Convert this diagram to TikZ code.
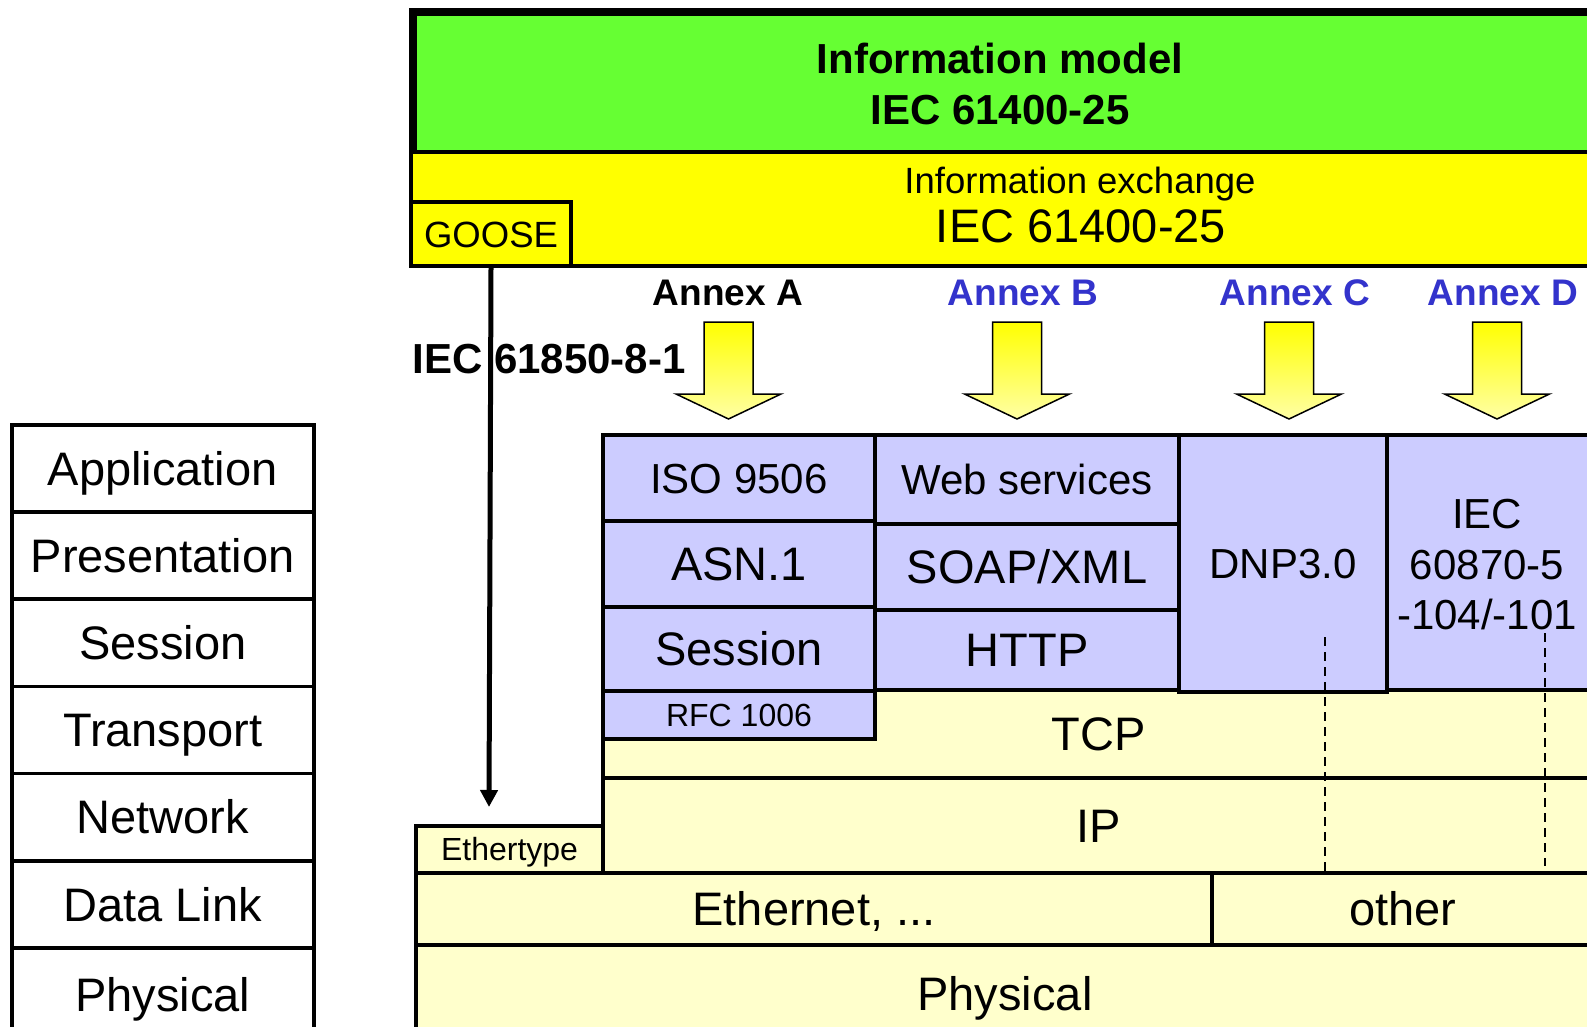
\documentclass[tikz,border=0pt]{standalone}
\usepackage{fontspec}
\setmainfont{Liberation Sans}
\usetikzlibrary{arrows.meta}
\definecolor{gmodel}{RGB}{102,255,51}
\definecolor{yex}{RGB}{255,255,0}
\definecolor{lblue}{RGB}{204,204,255}
\definecolor{pale}{RGB}{255,255,204}
\definecolor{annexblue}{RGB}{51,51,204}
\definecolor{arrpale}{RGB}{255,255,165}
\newcommand\fsz[2]{\fontsize{#1}{#2}\selectfont}
% style, x1, y1, x2, y2, name, text
\newcommand\cellbox[7]{\node[#1, minimum width={#4-#2}, minimum height={#5-#3}] (#6) at (#2,#3) {#7};}
\newcommand\drawannex[1]{\shadedraw[annexarrow] (#1-24.5,322) -- (#1+24.5,322) -- (#1+24.5,394) -- (#1+52.5,394) -- (#1,419) -- (#1-52.5,394) -- (#1-24.5,394) -- cycle;}
\tikzset{
  cell/.style={draw=black, line width=4pt, inner sep=0pt, anchor=north west},
  sz47/.style={font=\fsz{47}{54}, text height=33.6pt, text depth=0pt},
  sz42/.style={font=\fsz{42}{50}, text height=30.1pt, text depth=0pt},
  sz36/.style={font=\fsz{36.5}{42}, text height=26.1pt, text depth=0pt},
  sz32/.style={font=\fsz{32}{38}, text height=22.9pt, text depth=0pt},
  osi/.style={cell, fill=white, line width=3.5pt, sz47},
  bluecell/.style={cell, fill=lblue},
  palecell/.style={cell, fill=pale},
  annexarrow/.style={top color=yex, bottom color=arrpale, draw=black, line width=1.5pt, line join=miter},
  annexlbl/.style={font=\bfseries\fsz{37}{44}, anchor=base},
  dashline/.style={draw=black, line width=2.5pt, dash pattern=on 9pt off 6pt},
  gooseline/.style={draw=black, line width=5pt, -{Triangle[length=17pt,width=17pt]}},
}
\begin{document}
\begin{tikzpicture}[x=1pt,y=-1pt]
\useasboundingbox (0,0) rectangle (1587,1027);
\clip (0,0) rectangle (1587,1027);
\fill[white] (0,0) rectangle (1587,1027);

% OSI reference stack
\cellbox{osi}{10}{423}{312}{510.2}{osiapp}{Application}
\cellbox{osi}{10}{510.2}{312}{597.4}{osipres}{Presentation}
\cellbox{osi}{10}{597.4}{312}{684.6}{osisess}{Session}
\cellbox{osi}{10}{684.6}{312}{771.8}{ositrans}{Transport}
\cellbox{osi}{10}{771.8}{312}{859}{osinet}{Network}
\cellbox{osi}{10}{859}{312}{946.2}{osidl}{Data Link}
\cellbox{osi}{10}{946.2}{312}{1040}{osiphys}{Physical}

% top boxes
\cellbox{cell, fill=gmodel, line width=8pt}{409}{8}{1595}{150}{model}{}
\node[font=\bfseries\fsz{42}{51}, align=center, anchor=north] (modeltext) at (1000,40) {Information model\\IEC 61400-25};
\cellbox{cell, fill=yex}{409}{150}{1595}{264}{exchange}{}
\node[font=\fsz{36.5}{42}, anchor=base] (exchtext) at (1080,194) {Information exchange};
\node[font=\fsz{47}{54}, anchor=base] (exchiec) at (1081,243) {IEC 61400-25};
\cellbox{cell, fill=yex, sz36}{409}{200}{569}{264}{goose}{GOOSE}

% annex labels and arrows
\node[annexlbl] (annexA) at (728,305) {Annex A};
\node[annexlbl, text=annexblue] (annexB) at (1023,305) {Annex B};
\node[annexlbl, text=annexblue] (annexC) at (1295,305) {Annex C};
\node[annexlbl, text=annexblue] (annexD) at (1503,305) {Annex D};
\drawannex{728.5}
\drawannex{1017}
\drawannex{1289}
\drawannex{1497}
\node[font=\bfseries\fsz{42}{50}, anchor=base] (iec881) at (549,373) {IEC 61850-8-1};

% lower pale layers
\cellbox{palecell, sz47}{601}{688}{1592}{776}{tcp}{TCP}
\cellbox{palecell, sz47}{601}{776}{1592}{871}{ip}{IP}
\cellbox{palecell, sz32}{414}{824}{601}{871}{ethertype}{Ethertype}
\cellbox{palecell, sz47}{414}{871}{1210}{943}{ethernet}{Ethernet, ...}
\cellbox{palecell, sz47}{1210}{871}{1592}{943}{other}{other}
\cellbox{palecell, sz47}{414}{943}{1592}{1040}{physical}{Physical}

% blue protocol boxes
\cellbox{bluecell, sz42}{601}{433}{873}{519}{iso}{ISO 9506}
\cellbox{bluecell, sz47}{601}{519}{873}{605}{asn}{ASN.1}
\cellbox{bluecell, sz47}{601}{605}{873}{689}{session}{Session}
\cellbox{bluecell, sz32}{601}{689}{873}{737}{rfc}{RFC 1006}
\cellbox{bluecell, sz42}{873}{433}{1177}{522}{web}{Web services}
\cellbox{bluecell, sz47}{873}{522}{1177}{608}{soap}{SOAP/XML}
\cellbox{bluecell, sz47}{873}{608}{1177}{688}{http}{HTTP}
\cellbox{bluecell, sz42}{1177}{433}{1385}{690}{dnp}{DNP3.0}
\cellbox{bluecell}{1385}{433}{1595}{688}{iec104}{}
\node[font=\fsz{42}{50.5}, align=center, anchor=north] (iec104text) at (1487,496) {IEC\\60870-5\\-104/-101};

% dashed bypass lines
\coordinate (dnpdashtop) at (1325,637);
\coordinate (dnpdashbot) at (1325,871);
\coordinate (iecdashtop) at (1545,633);
\coordinate (iecdashbot) at (1545,866);
\draw[dashline] (dnpdashtop) -- (dnpdashbot);
\draw[dashline] (iecdashtop) -- (iecdashbot);

% GOOSE direct mapping arrow
\coordinate (gooseend) at (489,807);
\draw[gooseline] (goose.south) -- (gooseend);
\end{tikzpicture}
\end{document}
